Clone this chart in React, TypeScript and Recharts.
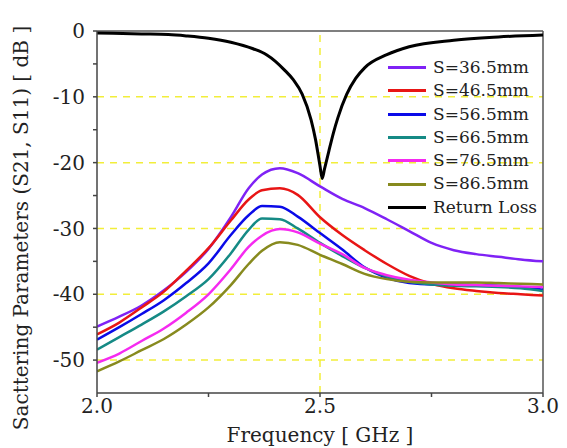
import { Label, Line, LineChart, ReferenceLine, XAxis, YAxis } from "recharts";

const freq = [2.0, 2.05, 2.1, 2.15, 2.2, 2.25, 2.3, 2.34, 2.37, 2.41, 2.45, 2.5, 2.55, 2.6, 2.65, 2.7, 2.75, 2.8, 2.85, 2.9, 2.95, 3.0];
const s365 = [-44.9, -43.4, -41.7, -39.4, -36.6, -33.1, -28.3, -23.9, -21.8, -20.85, -21.6, -23.6, -25.5, -26.9, -28.6, -30.4, -32.2, -33.3, -33.9, -34.3, -34.7, -35.0];
const s465 = [-46.1, -44.3, -42.0, -39.6, -36.4, -33.0, -28.8, -25.6, -24.2, -23.9, -24.9, -28.3, -31.0, -33.3, -35.4, -37.2, -38.4, -39.1, -39.5, -39.8, -40.0, -40.2];
const s565 = [-46.9, -45.0, -43.0, -40.9, -38.3, -35.3, -31.0, -28.0, -26.6, -26.7, -28.2, -30.7, -33.2, -35.9, -37.5, -38.3, -38.5, -38.5, -38.6, -38.7, -38.9, -39.3];
const s665 = [-48.4, -46.5, -44.6, -42.6, -40.3, -37.7, -33.8, -30.2, -28.5, -28.6, -30.0, -32.2, -34.2, -36.0, -37.3, -38.1, -38.5, -38.7, -38.8, -38.9, -39.1, -39.5];
const s765 = [-50.4, -49.0, -47.1, -45.2, -42.8, -40.0, -36.2, -32.8, -31.1, -30.1, -30.6, -32.3, -33.9, -36.0, -37.1, -37.8, -38.2, -38.5, -38.6, -38.7, -38.8, -38.9];
const s865 = [-51.7, -50.2, -48.5, -46.8, -44.6, -42.0, -38.6, -35.4, -33.4, -32.1, -32.5, -34.0, -35.4, -36.9, -37.7, -38.1, -38.2, -38.2, -38.2, -38.3, -38.4, -38.5];

const rlFreq = [2.0, 2.1, 2.16, 2.2, 2.25, 2.3, 2.35, 2.38, 2.4, 2.42, 2.44, 2.46, 2.48, 2.49, 2.5, 2.505, 2.51, 2.52, 2.53, 2.54, 2.56, 2.58, 2.6, 2.65, 2.7, 2.8, 2.9, 3.0];
const returnLoss = [-0.3, -0.45, -0.55, -0.75, -1.1, -1.7, -2.7, -3.6, -4.6, -5.9, -7.4, -9.6, -13.5, -16.5, -20.5, -22.4, -21.0, -18.2, -15.5, -13.2, -9.6, -7.2, -5.6, -3.6, -2.4, -1.4, -0.9, -0.6];

const xTicks = [2.0, 2.25, 2.5, 2.75, 3.0];
const yTicks = [0, -5, -10, -15, -20, -25, -30, -35, -40, -45, -50];
const gridY = [-10, -20, -30, -40, -50];
const gridX = [2.5];

const series = [
  { key: "s365", name: "S=36.5mm", color: "#7f22f5", values: s365 },
  { key: "s465", name: "S=46.5mm", color: "#e81515", values: s465 },
  { key: "s565", name: "S=56.5mm", color: "#0a0ae8", values: s565 },
  { key: "s665", name: "S=66.5mm", color: "#158a85", values: s665 },
  { key: "s765", name: "S=76.5mm", color: "#f52af0", values: s765 },
  { key: "s865", name: "S=86.5mm", color: "#878a1e", values: s865 },
];

const s21Data = freq.map((f, i) => {
  const row: Record<string, number> = { f };
  series.forEach((s) => (row[s.key] = s.values[i]));
  return row;
});
const rlData = rlFreq.map((f, i) => ({ f, rl: returnLoss[i] }));

const font = "'DejaVu Serif', serif";
const gridColor = "#f2ee3a";

const legendItems = [...series.map((s) => ({ name: s.name, color: s.color })), { name: "Return Loss", color: "#000" }];

function LegendBox() {
  return (
    <div style={{ position: "absolute", left: 388, top: 56, fontFamily: font, fontSize: 17, color: "#222", lineHeight: "23.3px" }}>
      {legendItems.map((it) => (
        <div key={it.name} style={{ display: "flex", alignItems: "center", whiteSpace: "nowrap" }}>
          <span style={{ display: "inline-block", width: 38, height: 3, background: it.color, marginRight: 7 }} />
          {it.name}
        </div>
      ))}
    </div>
  );
}

export default function App() {
  return (
    <div style={{ position: "absolute", left: 0, top: 0, width: 567, height: 448, background: "#fff" }}>
      <LineChart width={567} height={448} margin={{ top: 31, right: 24, left: 0, bottom: 0 }}>
        <XAxis
          type="number"
          dataKey="f"
          domain={[2, 3]}
          ticks={xTicks}
          tickFormatter={(v: number) => (Math.abs(v * 2 - Math.round(v * 2)) < 1e-6 ? v.toFixed(1) : "")}
          height={55}
          stroke="#444"
          strokeWidth={1.5}
          tickSize={4}
          tick={{ fill: "#222", fontSize: 20, fontFamily: font }}
          allowDataOverflow
        >
          <Label
            content={() => (
              <text x={320} y={442} textAnchor="middle" fill="#222" fontSize={20} fontFamily={font}>
                Frequency [ GHz ]
              </text>
            )}
          />
        </XAxis>
        <YAxis
          type="number"
          domain={[-55, 0]}
          ticks={yTicks}
          tickFormatter={(v: number) => (v % 10 === 0 ? String(v) : "")}
          width={97}
          stroke="#444"
          strokeWidth={1.5}
          tickSize={4}
          tickMargin={8}
          tick={{ fill: "#222", fontSize: 20, fontFamily: font }}
          allowDataOverflow
        >
          <Label
            content={() => (
              <text x={28} y={228} transform="rotate(-90 28 228)" textAnchor="middle" fill="#222" fontSize={20} fontFamily={font}>
                Sacttering Parameters (S21, S11) [ dB ]
              </text>
            )}
          />
        </YAxis>
        {gridY.map((v) => (
          <ReferenceLine key={`gy${v}`} y={v} stroke={gridColor} strokeDasharray="7 6" strokeWidth={1.5} />
        ))}
        {gridX.map((v) => (
          <ReferenceLine key={`gx${v}`} x={v} stroke={gridColor} strokeDasharray="7 6" strokeWidth={1.5} />
        ))}
        <ReferenceLine y={0} stroke="#555" strokeWidth={1.5} />
        <ReferenceLine x={3} stroke="#555" strokeWidth={1.5} />
        {series.map((s) => (
          <Line key={s.key} data={s21Data} dataKey={s.key} name={s.name} type="monotone" stroke={s.color} strokeWidth={2.5} dot={false} isAnimationActive={false} />
        ))}
        <Line data={rlData} dataKey="rl" name="Return Loss" type="monotone" stroke="#000" strokeWidth={3} dot={false} isAnimationActive={false} />
      </LineChart>
      <LegendBox />
    </div>
  );
}
